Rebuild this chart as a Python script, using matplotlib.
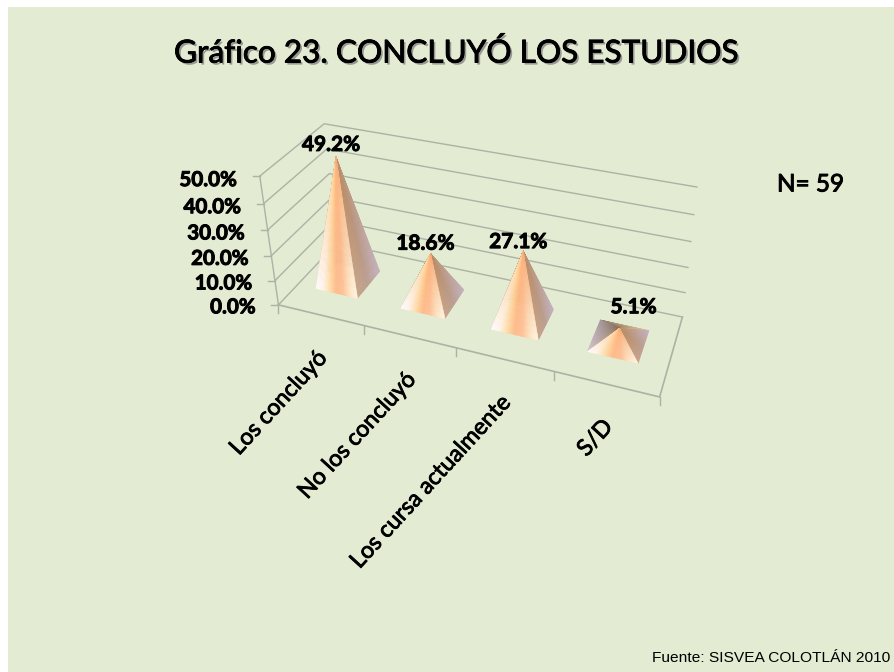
#!/usr/bin/python3

import numpy as np
import matplotlib
matplotlib.use("Agg")
import matplotlib.pyplot as plt
import matplotlib.patheffects as pe
from matplotlib.collections import PolyCollection
from matplotlib.colors import LinearSegmentedColormap, to_rgb
from matplotlib.patches import Rectangle

categories = ["Los concluyó", "No los concluyó", "Los cursa actualmente", "S/D"]
values = [49.2, 18.6, 27.1, 5.1]
value_labels = ["49.2%", "18.6%", "27.1%", "5.1%"]
z_ticks = [0, 10, 20, 30, 40, 50]
z_tick_labels = ["0.0%", "10.0%", "20.0%", "30.0%", "40.0%", "50.0%"]

GREEN = "#e3ebd2"
GRID = "#adb2a6"
FONT = "Lato"

# frame corners of the chart as (category, depth, value) -> pixel, used to fit the 3d view
frame_3d = np.array([[0, 0, 0], [0, 0, 50], [0, 1, 0], [0, 1, 50],
                     [4, 1, 0], [4, 1, 50], [4, 0, 0]], dtype=float)
frame_px = np.array([[277, 304], [261, 177], [338, 244], [323, 123],
                     [682, 317], [697, 187], [660, 397]], dtype=float)


def fit_view(points, pixels):
    rows = []
    rhs = []
    for (x, y, z), (u, v) in zip(points, pixels):
        rows.append([x, y, z, 1, 0, 0, 0, 0, -u * x, -u * y, -u * z])
        rows.append([0, 0, 0, 0, x, y, z, 1, -v * x, -v * y, -v * z])
        rhs += [u, v]
    p = np.linalg.lstsq(np.array(rows), np.array(rhs), rcond=None)[0]
    return np.append(p, 1.0).reshape(3, 4)


view = fit_view(frame_3d, frame_px)


def project(x, y, z):
    h = view @ np.array([x, y, z, 1.0])
    return h[:2] / h[2]


def face_colors(colors):
    return LinearSegmentedColormap.from_list("face", colors)


def draw_face(ax, a, b, apex, top_colors, bottom_colors, zorder):
    cmap_top = face_colors(top_colors)
    cmap_bottom = face_colors(bottom_colors)
    n, m = 30, 14
    polys = []
    cols = []
    for i in range(n):
        t0, t1 = i / n, (i + 1) / n
        for j in range(m):
            s0, s1 = j / m, (j + 1) / m
            q = [a + (b - a) * t0, a + (b - a) * t1]
            polys.append([q[0] + (apex - q[0]) * s0, q[1] + (apex - q[1]) * s0,
                          q[1] + (apex - q[1]) * s1, q[0] + (apex - q[0]) * s1])
            top = np.array(cmap_top((t0 + t1) / 2)[:3])
            bottom = np.array(cmap_bottom((t0 + t1) / 2)[:3])
            s = (s0 + s1) / 2
            cols.append(bottom * (1 - s) + top * s)
    ax.add_collection(PolyCollection(polys, facecolors=cols, edgecolors=cols,
                                     linewidths=0.4, zorder=zorder))


fig = plt.figure(figsize=(8.95, 6.72), dpi=100)
ax = fig.add_axes([0, 0, 1, 1])
ax.set_xlim(0, 895)
ax.set_ylim(672, 0)
ax.axis("off")
ax.add_patch(Rectangle((8, 7), 887, 665, facecolor=GREEN, edgecolor="none", zorder=0))

thick = [pe.withStroke(linewidth=0.7, foreground="black")]

# walls
for z in z_ticks:
    line = np.array([project(0, 0, z), project(0, 1, z), project(4, 1, z)])
    ax.plot(line[:, 0], line[:, 1], color=GRID, lw=1.0, zorder=1)
    p = project(0, 0, z)
    ax.plot([p[0] - 7, p[0]], [p[1], p[1]], color=GRID, lw=1.0, zorder=1)
    ax.text(p[0] - 23, p[1] + 2.5 + z * 0.03, z_tick_labels[z_ticks.index(z)], ha="right", va="center",
            fontsize=14.8, fontweight="bold", family=FONT, color="black", zorder=5, path_effects=thick)

edge = np.array([project(0, 0, 0), project(0, 0, 50)])
ax.plot(edge[:, 0], edge[:, 1], color=GRID, lw=1.0, zorder=1)
edge = np.array([project(0, 0, 0), project(4, 0, 0), project(4, 1, 0)])
ax.plot(edge[:, 0], edge[:, 1], color=GRID, lw=1.2, zorder=1)
for i in range(len(categories) + 1):
    p = project(i, 0, 0)
    ax.plot([p[0], p[0]], [p[1], p[1] + 8], color=GRID, lw=1.0, zorder=1)

# pyramids
base_width = 0.5
base_center = 0.47
base_front = 0.31
base_back = 0.73
label_offsets = [(-5, -2), (-5, 0), (-5, 1), (14, -11)]
for i, value in enumerate(values):
    x0, x1 = i + base_center - base_width / 2, i + base_center + base_width / 2
    fl = project(x0, base_front, 0)
    fr = project(x1, base_front, 0)
    br = project(x1, base_back, 0)
    bl = project(x0, base_back, 0)
    apex = project(i + base_center, (base_front + base_back) / 2, value)
    draw_face(ax, bl, br, apex, ["#6e5a44", "#a07c54", "#c8a67c"], ["#8d7c6c", "#bda583", "#d9c6a0"], 2)
    draw_face(ax, fl, bl, apex, ["#9c8468", "#85705a"], ["#d8c8d4", "#a89aa0"], 2)
    draw_face(ax, fr, br, apex, ["#bf8d5d", "#b98b62", "#b79069"], ["#c9a58a", "#bb9f93", "#c4b2c4"], 3)
    draw_face(ax, fl, fr, apex,
              ["#ffd696", "#ffcc8c", "#ffb880", "#fbb07c", "#f4a873"],
              ["#fffcfc", "#fff6f2", "#ffe0ac", "#ffbc8c", "#ffc29a", "#ffe6c6", "#fff6e6"], 4)
    off = label_offsets[i]
    ax.text(apex[0] + off[0], apex[1] + off[1], value_labels[i], ha="center", va="bottom",
            fontsize=15, fontweight="bold", family=FONT, color="black", zorder=6, path_effects=thick)

    p = (project(i, 0, 0) + project(i + 1, 0, 0)) / 2
    ax.text(p[0] + 2, p[1] + 39, categories[i], rotation=47.5, rotation_mode="anchor",
            ha="right", va="center", fontsize=16.6, family=FONT, color="black", zorder=5,
            path_effects=[pe.withStroke(linewidth=0.6, foreground="black")])

shadow = [pe.withSimplePatchShadow(offset=(1.5, -1.5), shadow_rgbFace=to_rgb("#777777"), alpha=0.7),
          pe.withStroke(linewidth=0.6, foreground="black")]
ax.text(456, 53, "Gráfico 23. CONCLUYÓ LOS ESTUDIOS", ha="center", va="center", fontsize=22.7,
        family=FONT, color="black", path_effects=shadow, zorder=6)
ax.text(810.5, 185, "N= 59", ha="center", va="center", fontsize=17.5, family=FONT, color="black",
        path_effects=thick)
ax.text(890, 658, "Fuente: SISVEA COLOTLÁN 2010", ha="right", va="center", fontsize=11.15,
        family="Liberation Sans", color="black")

fig.savefig("out.png", dpi=100)
